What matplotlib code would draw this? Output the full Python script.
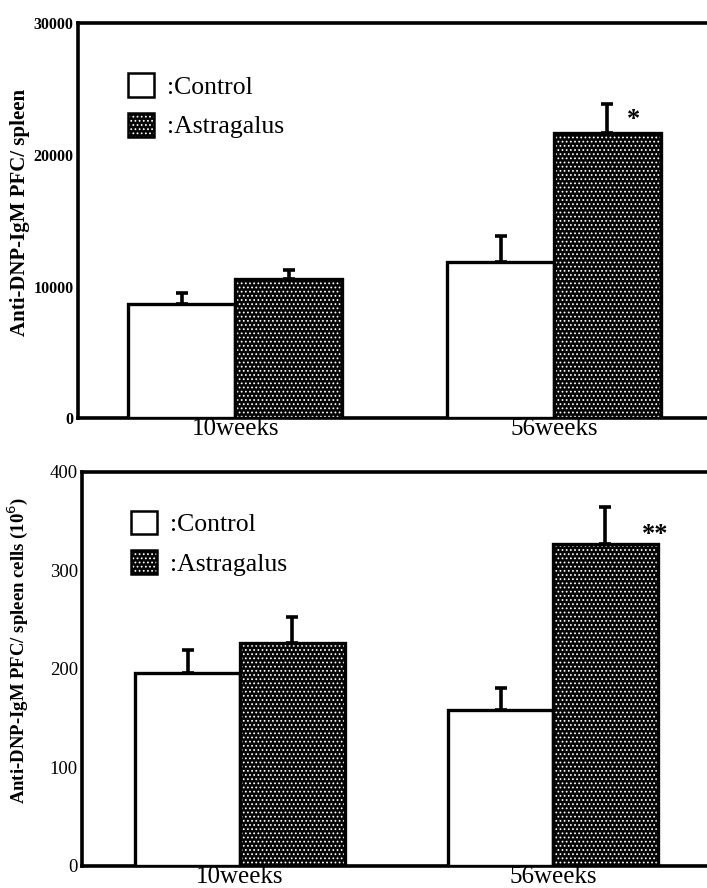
import matplotlib
matplotlib.use("Agg")
import matplotlib.pyplot as plt
from matplotlib.patches import Patch
from matplotlib.legend_handler import HandlerTuple
import numpy as np

plt.rcParams['font.family'] = ['Liberation Serif', 'DejaVu Serif']
plt.rcParams['hatch.linewidth'] = 0.75

groups = ["10weeks", "56weeks"]
series = [":Control", ":Astragalus"]

# PFC per spleen
spleen_ctrl = [8700, 11850]
spleen_ctrl_err = [800, 2000]
spleen_astr = [10550, 21650]
spleen_astr_err = [700, 2200]
spleen_ticks = [0, 10000, 20000, 30000]
spleen_marks = ["", "*"]

# PFC per 10^6 spleen cells
cells_ctrl = [196, 158]
cells_ctrl_err = [23, 23]
cells_astr = [226, 327]
cells_astr_err = [27, 37]
cells_ticks = [0, 100, 200, 300, 400]
cells_marks = ["", "**"]

BAR_W = 0.335
LW = 2.4
DARK = '#050505'


def draw_panel(ax, ctrl, ctrl_err, astr, astr_err, ticks, marks, ylabel,
               ylabel_size, ylabel_pos, tick_size, tick_weight, mark_offset,
               legend_anchor, xlim):
    x = np.arange(len(groups))
    xc = x - BAR_W / 2
    xa = x + BAR_W / 2
    # control: open bars
    ax.bar(xc, ctrl, BAR_W, facecolor='white', edgecolor='black', lw=LW, zorder=3)
    # astragalus: dark bars with white dot texture, then black outline
    ax.bar(xa, astr, BAR_W, facecolor=DARK, edgecolor='white', hatch='....',
           lw=0, zorder=3)
    ax.bar(xa, astr, BAR_W, fill=False, edgecolor='black', lw=LW, zorder=4)
    ax.errorbar(xc, ctrl, yerr=[np.zeros(len(ctrl)), ctrl_err], fmt='none',
                ecolor='black', elinewidth=2.6, capsize=4.5, capthick=2.6, zorder=2)
    ax.errorbar(xa, astr, yerr=[np.zeros(len(astr)), astr_err], fmt='none',
                ecolor='black', elinewidth=2.6, capsize=4.5, capthick=2.6, zorder=2)
    for xi, yi, m in zip(xa, astr, marks):
        if m:
            ax.annotate(m, xy=(xi, yi), xytext=mark_offset, textcoords='offset points',
                        ha='center', va='center', fontsize=19, fontweight='bold')

    ax.set_ylim(ticks[0], ticks[-1])
    ax.set_yticks(ticks)
    ax.set_yticklabels([str(t) for t in ticks], fontsize=tick_size,
                       fontweight=tick_weight)
    ax.set_xlim(*xlim)
    ax.set_xticks(x)
    ax.set_xticklabels(groups, fontsize=18)
    ax.tick_params(axis='both', length=0, pad=3)
    ax.tick_params(axis='x', pad=0)
    ax.set_ylabel(ylabel, fontsize=ylabel_size, fontweight='bold')
    ax.yaxis.set_label_coords(*ylabel_pos)

    for s in ['left', 'bottom', 'top']:
        ax.spines[s].set_linewidth(2.6)
    ax.spines['right'].set_visible(False)

    h_ctrl = Patch(facecolor='white', edgecolor='black', lw=1.8)
    h_fill = Patch(facecolor=DARK, edgecolor='white', hatch='....', lw=0)
    h_edge = Patch(fill=False, edgecolor='black', lw=1.8)
    ax.legend([h_ctrl, (h_fill, h_edge)], series, loc='upper left',
              bbox_to_anchor=legend_anchor, frameon=False, fontsize=18.5,
              handlelength=1.0, handleheight=1.05, handletextpad=0.5,
              labelspacing=0.55, borderaxespad=0,
              handler_map={tuple: HandlerTuple(ndivide=1)})


fig = plt.figure(figsize=(7.07, 8.88), dpi=100)
ax1 = fig.add_axes([0.110, 0.529, 0.890, 0.445])
ax2 = fig.add_axes([0.116, 0.0248, 0.884, 0.4437])

draw_panel(ax1, spleen_ctrl, spleen_ctrl_err, spleen_astr, spleen_astr_err,
           spleen_ticks, spleen_marks, "Anti-DNP-IgM PFC/ spleen",
           15, (-0.076, 0.52), 11.5, 'bold', (19, 10), (0.064, 0.90),
           (-0.494, 1.480))
draw_panel(ax2, cells_ctrl, cells_ctrl_err, cells_astr, cells_astr_err,
           cells_ticks, cells_marks, "Anti-DNP-IgM PFC/ spleen cells (10$^6$)",
           13.5, (-0.083, 0.546), 13.5, 'normal', (36, 7), (0.062, 0.928),
           (-0.505, 1.492))

fig.savefig("out.png", dpi=100)
